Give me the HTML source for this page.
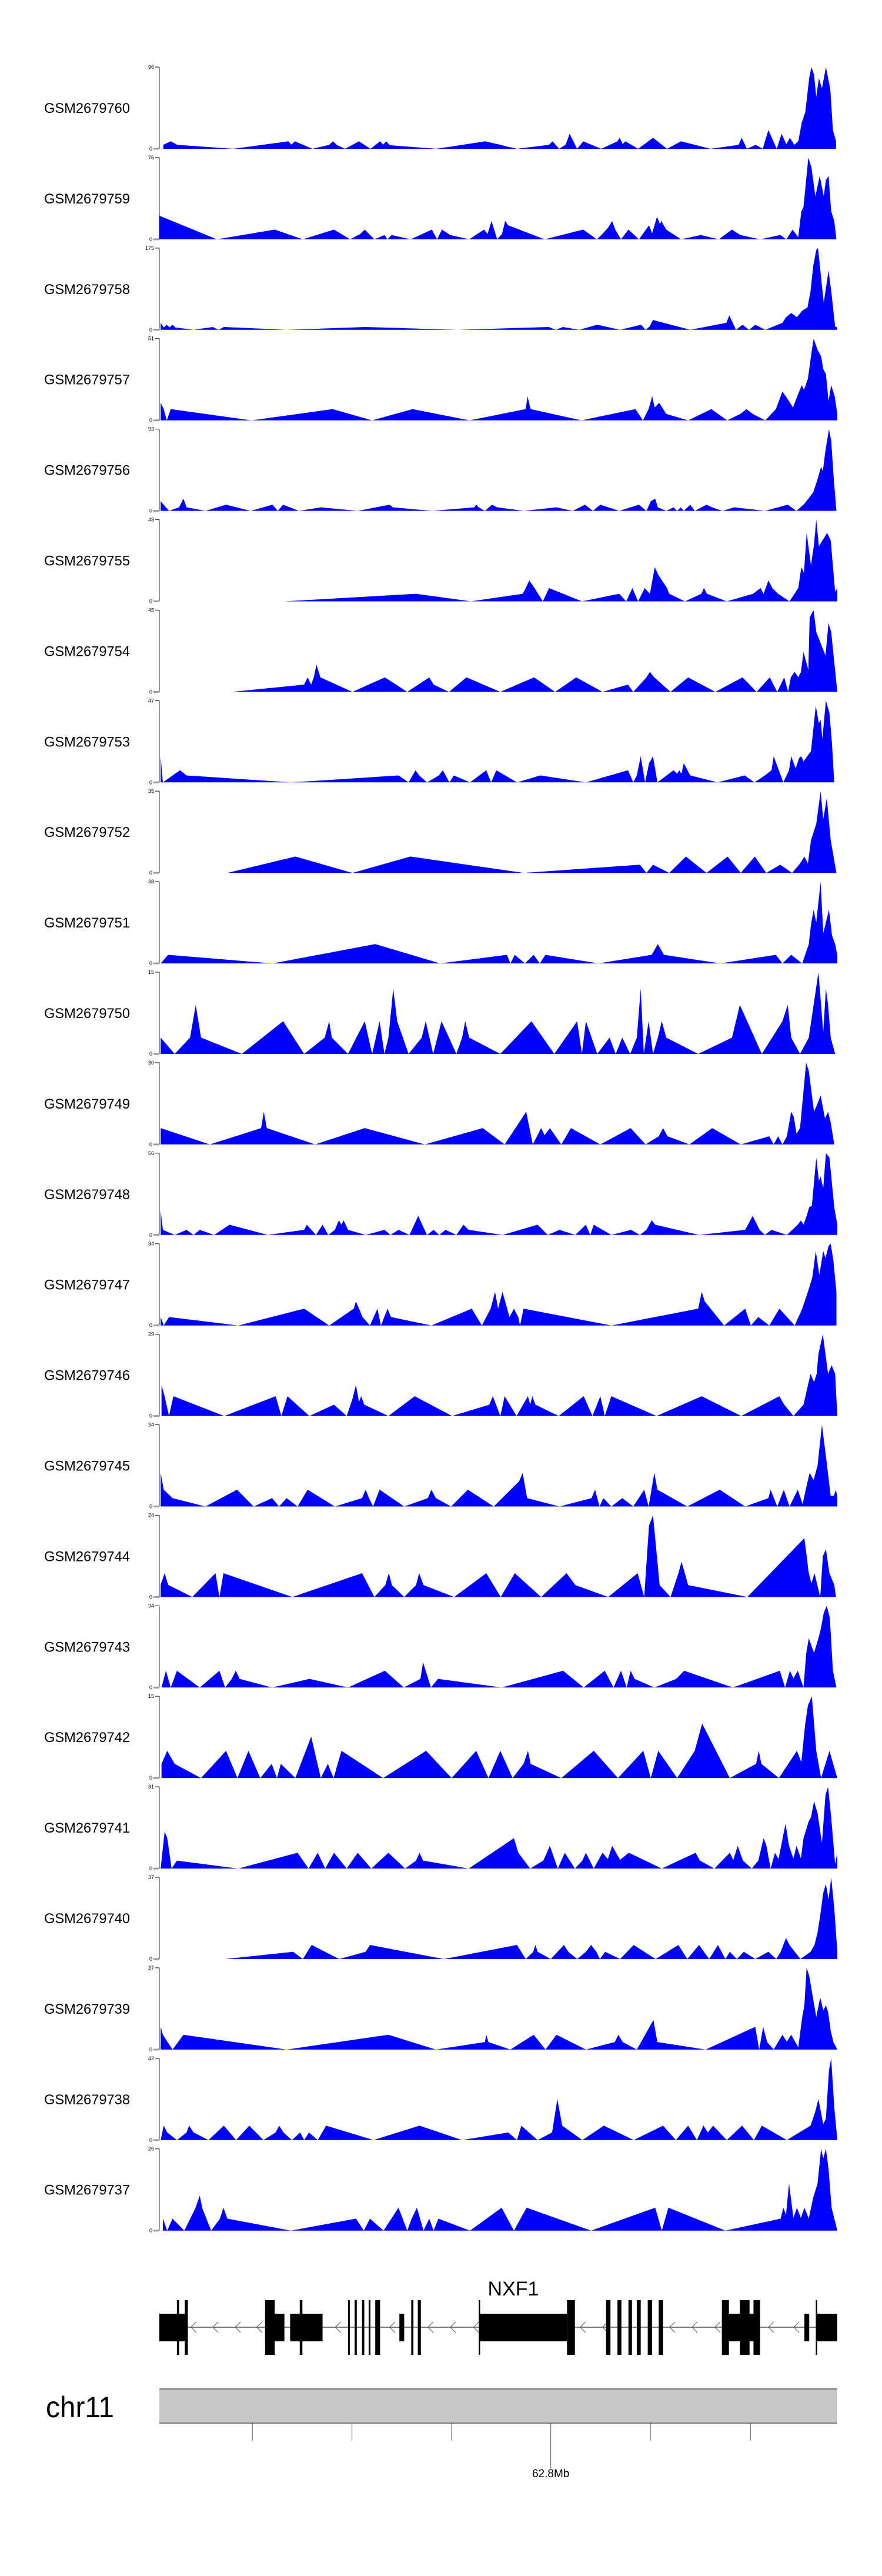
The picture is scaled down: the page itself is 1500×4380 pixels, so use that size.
<!DOCTYPE html>
<html><head><meta charset="utf-8"><title>NXF1 coverage tracks</title>
<style>html,body{margin:0;padding:0;background:#fff}svg{display:block}text{font-family:"Liberation Sans",Arial,sans-serif}</style>
</head><body>
<svg id="chart" xmlns="http://www.w3.org/2000/svg" width="1500" height="4380" viewBox="0 0 1500 4380">
<g id="tracks"></g>
<g id="gene">
  <text x="873" y="3903" text-anchor="middle" font-size="34">NXF1</text>
</g>
<g id="ideo">
  <text x="78" y="4110" font-size="50" textLength="116" lengthAdjust="spacingAndGlyphs">chr11</text>
  <rect x="271" y="4062" width="1153" height="58" fill="#c8c8c8"/>
  <line x1="271" y1="4062" x2="1424" y2="4062" stroke="#777" stroke-width="2"/>
  <line x1="271" y1="4120" x2="1424" y2="4120" stroke="#777" stroke-width="2"/>
</g>
</svg>
<script>
const sampleNames = ["GSM2679760","GSM2679759","GSM2679758","GSM2679757","GSM2679756","GSM2679755","GSM2679754","GSM2679753","GSM2679752","GSM2679751","GSM2679750","GSM2679749","GSM2679748","GSM2679747","GSM2679746","GSM2679745","GSM2679744","GSM2679743","GSM2679742","GSM2679741","GSM2679740","GSM2679739","GSM2679738","GSM2679737"];
const trackMax = [96,76,175,51,93,43,45,47,35,38,15,30,56,34,29,34,24,34,15,31,37,37,42,26];
const binDomain = [0,1545];
// coverage per track: [bin position, read coverage]
const cov0 = [[9,4.6],[26,8.8],[41,4.6],[169,0],[294,8.8],[301,4.9],[309,8.8],[349,0],[387,4.6],[396,8.8],[404,4.6],[423,0],[455,8.8],[481,0],[503,8.8],[510,4.9],[517,8.8],[525,4.2],[631,0],[743,8.8],[815,0],[888,4.6],[896,8.8],[911,0],[926,4.9],[935,17.6],[952,0],[966,8.8],[1007,0],[1044,8.8],[1049,13],[1056,5.6],[1062,8.8],[1091,0],[1125,13],[1157,0],[1189,8.8],[1256,0],[1320,4.6],[1327,13],[1339,0],[1359,4.6],[1375,0],[1388,22],[1407,0],[1418,17.6],[1429,5.3],[1437,13],[1447,4.6],[1456,8.8],[1464,31],[1472,43],[1481,83],[1486,96],[1492,87],[1497,61],[1503,83],[1510,71],[1519,96],[1529,70],[1535,22],[1542,9]];
const cov1 = [[0,22],[131,0],[263,9],[327,0],[398,9],[435,0],[458,5],[468,9],[490,0],[513,4],[520,0],[529,4],[573,0],[621,9],[633,0],[644,9],[663,4],[706,0],[740,9],[748,5],[757,17],[770,0],[781,5],[788,17],[795,13],[878,0],[966,9],[997,0],[1010,5],[1023,11],[1032,17],[1039,9],[1052,0],[1069,9],[1093,0],[1116,13],[1123,5.5],[1134,21],[1141,14],[1144,17],[1155,9],[1189,0],[1234,4],[1275,0],[1305,9],[1324,4],[1369,0],[1415,4],[1429,0],[1443,9],[1456,2],[1463,26],[1468,30],[1479,76],[1486,67],[1495,40],[1505,59],[1514,40],[1519,55],[1525,59],[1531,26],[1538,17],[1543,0]];
const cov2 = [[3,15],[10,5],[17,11],[23,5],[30,11],[36,5],[78,0],[122,6],[135,0],[147,6],[290,0],[470,6],[680,0],[888,6],[903,0],[920,6],[957,0],[998,11],[1050,0],[1098,11],[1108,0],[1117,7],[1125,21],[1210,0],[1292,15],[1299,31],[1314,0],[1329,11],[1344,0],[1358,11],[1381,0],[1420,15],[1428,27],[1440,36],[1453,27],[1465,41],[1477,48],[1484,83],[1490,137],[1497,171],[1501,175],[1514,58],[1525,127],[1532,76],[1540,7],[1545,5]];
const cov3 = [[3,11],[10,7],[17,0],[26,7],[210,0],[395,7],[485,0],[577,7],[707,0],[835,7],[839,15],[846,7],[962,0],[1085,7],[1102,0],[1115,7],[1123,15],[1129,8],[1139,11],[1155,4],[1205,0],[1258,7],[1294,0],[1324,4],[1338,7],[1352,4],[1381,0],[1405,7],[1420,18],[1430,14],[1444,8],[1458,18],[1464,22],[1469,19],[1478,26],[1485,40],[1491,51],[1500,44],[1508,40],[1513,32],[1519,29],[1525,12],[1531,22],[1539,15],[1545,4]];
const cov4 = [[3,11],[22,0],[45,4],[55,14],[62,4],[105,0],[152,7],[208,0],[258,7],[270,0],[282,7],[318,0],[368,4],[452,0],[525,7],[532,4],[622,0],[718,4],[722,7],[728,4],[742,0],[758,7],[770,4],[830,0],[905,4],[942,0],[970,7],[988,0],[1005,7],[1048,0],[1093,7],[1110,0],[1120,11],[1130,14],[1136,4],[1155,0],[1172,4],[1180,0],[1188,4],[1195,0],[1210,7],[1220,0],[1247,7],[1260,4],[1283,0],[1310,4],[1380,0],[1432,7],[1452,0],[1470,8],[1490,21],[1500,36],[1508,50],[1512,45],[1518,69],[1526,93],[1531,80],[1537,36],[1543,0]];
const cov5 = [[285,0],[585,4],[710,0],[828,4],[835,7],[843,11],[855,7],[874,0],[888,7],[963,0],[1048,4],[1064,0],[1078,7],[1091,0],[1106,7],[1118,4],[1129,18],[1137,14],[1157,7],[1162,4],[1198,0],[1235,4],[1241,7],[1248,4],[1293,0],[1353,4],[1370,7],[1377,4],[1388,11],[1397,7],[1410,4],[1436,0],[1456,7],[1463,18],[1469,15],[1475,36],[1485,19],[1492,30],[1497,43],[1503,29],[1511,32],[1522,36],[1530,32],[1540,5],[1545,7]];
const cov6 = [[165,0],[330,4],[338,8],[346,4],[352,8],[358,15],[367,8],[440,0],[514,8],[565,0],[615,8],[625,4],[660,0],[700,8],[777,0],[854,8],[902,0],[950,8],[1010,0],[1068,4],[1080,0],[1110,8],[1118,11],[1128,8],[1165,0],[1205,8],[1267,0],[1329,8],[1361,0],[1391,8],[1408,0],[1424,8],[1433,0],[1439,8],[1448,11],[1456,8],[1462,11],[1468,22],[1479,12],[1482,41],[1491,45],[1497,33],[1518,20],[1525,38],[1531,33],[1545,0]];
const cov7 = [[3,15],[8,0],[47,7],[62,4],[300,0],[545,4],[568,0],[584,7],[592,4],[610,0],[637,4],[646,7],[661,0],[671,4],[708,0],[745,7],[756,0],[768,7],[815,0],[868,4],[972,0],[1068,7],[1080,0],[1088,4],[1097,15],[1107,0],[1116,11],[1125,15],[1135,0],[1172,7],[1180,5],[1185,7],[1190,5],[1195,11],[1210,4],[1272,0],[1334,4],[1356,0],[1380,4],[1395,7],[1400,15],[1422,0],[1435,7],[1440,15],[1450,8],[1458,14],[1463,15],[1468,12],[1485,18],[1496,44],[1503,34],[1507,36],[1511,25],[1519,47],[1527,40],[1533,22],[1538,0]];
const cov8 = [[155,0],[310,7],[440,0],[572,7],[830,0],[1095,3.5],[1110,0],[1125,3.5],[1162,0],[1200,7],[1247,0],[1295,7],[1325,0],[1357,7],[1383,0],[1415,3.5],[1442,0],[1460,4],[1470,7],[1478,4],[1485,14],[1497,21],[1507,35],[1513,23],[1521,32],[1530,14],[1543,0]];
const cov9 = [[3,0],[20,4],[258,0],[492,9],[640,0],[792,4],[800,0],[810,4],[833,0],[853,4],[867,0],[880,4],[1000,0],[1122,4],[1136,9],[1150,4],[1278,0],[1405,4],[1420,0],[1440,4],[1465,0],[1480,9],[1485,18],[1491,25],[1497,19],[1507,38],[1513,14],[1526,25],[1533,13],[1540,9],[1545,4]];
const cov10 = [[3,3],[35,0],[70,3],[83,9],[95,3],[188,0],[282,6],[298,4],[330,0],[377,3],[387,6],[393,3],[430,0],[468,6],[485,0],[502,6],[513,0],[522,3],[533,12],[542,6],[568,0],[598,3],[607,6],[624,0],[643,6],[677,0],[690,3],[697,6],[706,3],[777,0],[848,6],[900,0],[952,6],[963,0],[972,6],[998,0],[1026,3],[1040,0],[1055,3],[1073,0],[1088,3],[1097,12],[1104,0],[1115,6],[1125,0],[1136,3],[1145,6],[1155,3],[1228,0],[1305,3],[1323,9],[1373,0],[1420,6],[1432,9],[1440,3],[1460,0],[1480,3],[1502,15],[1513,4],[1519,12],[1524,9],[1530,3],[1540,0]];
const cov11 = [[3,6],[115,0],[232,6],[238,12],[245,6],[355,0],[468,6],[605,0],[737,6],[787,0],[836,12],[851,0],[870,6],[878,3.4],[890,6],[916,0],[938,6],[1005,0],[1074,6],[1108,0],[1138,3],[1148,6],[1158,3],[1208,0],[1260,6],[1325,0],[1390,3],[1400,0],[1410,3],[1420,0],[1430,3],[1440,12],[1446,10],[1452,4],[1460,6],[1474,30],[1480,27],[1492,12],[1500,15],[1507,18],[1517,9.5],[1524,12],[1530,8],[1538,0]];
const cov12 = [[3,17],[8,3.5],[35,0],[62,3.5],[78,0],[92,3.5],[125,0],[160,7],[247,0],[330,3.5],[336,7],[357,0],[372,7],[385,0],[400,3.5],[409,10],[415,7],[420,10],[430,3.5],[470,0],[513,3.5],[527,0],[545,3.5],[570,0],[590,13],[610,0],[625,3.5],[638,0],[652,3.5],[677,0],[693,7],[705,3.5],[782,0],[862,7],[885,0],[912,3.5],[948,0],[972,7],[982,0],[990,7],[1030,0],[1075,3.5],[1095,0],[1110,3.5],[1122,10],[1130,7],[1230,0],[1335,3.5],[1352,13],[1368,3.5],[1380,0],[1395,3.5],[1430,0],[1455,7],[1462,10],[1468,7],[1475,13],[1481,19],[1487,20],[1497,53],[1503,37],[1507,40],[1513,32],[1519,56],[1527,53],[1538,19],[1545,7]];
const cov13 = [[3,3.5],[10,0],[22,3.5],[180,0],[330,7],[387,0],[443,7],[448,10],[455,7],[463,3.5],[480,0],[497,7],[505,0],[520,7],[528,3.5],[620,0],[712,7],[735,0],[755,7],[765,14],[772,7],[782,14],[798,3.5],[808,7],[818,3.5],[822,0],[830,7],[1030,0],[1228,7],[1236,14],[1243,10],[1287,0],[1335,7],[1348,0],[1365,3.5],[1390,0],[1413,7],[1448,0],[1465,7],[1478,14],[1488,20],[1496,31],[1504,21],[1513,31],[1518,28],[1525,33],[1530,34],[1536,27],[1543,14]];
const cov14 = [[5,11],[12,7],[22,0],[32,7],[148,0],[265,7],[278,0],[292,7],[342,0],[398,4],[427,0],[440,6],[448,11],[455,5],[460,7],[467,4],[522,0],[582,7],[667,0],[752,4],[760,7],[777,0],[787,7],[814,0],[840,7],[845,4],[850,7],[857,4],[910,0],[967,7],[987,0],[1005,7],[1015,0],[1030,7],[1133,0],[1236,7],[1326,0],[1413,7],[1424,4],[1445,0],[1468,4],[1484,15],[1492,12],[1498,15],[1502,22],[1512,29],[1524,15],[1532,18],[1540,15],[1545,0]];
const cov15 = [[3,14],[10,7],[30,3.5],[105,0],[177,7],[215,0],[257,3.5],[273,0],[290,3.5],[315,0],[338,7],[400,0],[462,3.5],[470,7],[478,3.5],[487,0],[502,7],[558,0],[612,3.5],[620,7],[630,3.5],[665,0],[703,7],[762,0],[820,10.5],[828,14],[838,3.5],[912,0],[985,3.5],[993,7],[1003,0],[1012,3.5],[1030,0],[1055,3.5],[1080,0],[1105,7],[1115,0],[1128,14],[1135,7],[1203,0],[1277,7],[1335,0],[1388,3.5],[1393,7],[1408,0],[1423,7],[1436,0],[1455,7],[1466,1],[1473,7],[1482,14],[1491,11],[1500,17],[1510,34],[1520,19.5],[1530,4.4],[1537,4.4],[1542,7],[1545,3.5]];
const cov16 = [[3,3.6],[12,7],[20,3.6],[75,0],[128,7],[137,0],[146,7],[303,0],[462,7],[490,0],[515,3.5],[523,7],[530,3.5],[558,0],[585,3.5],[592,7],[602,3.5],[672,0],[745,7],[778,0],[810,7],[870,0],[928,7],[948,3.5],[1023,0],[1090,7],[1105,0],[1116,21],[1125,24],[1140,3.5],[1165,0],[1183,7],[1190,10.4],[1205,3.5],[1340,0],[1470,17.3],[1480,7],[1486,4],[1493,7],[1506,0],[1512,12],[1519,14],[1527,7],[1538,3.6],[1542,0]];
const cov17 = [[5,0],[15,7],[26,0],[40,7],[92,0],[137,7],[150,0],[165,3.6],[174,7],[183,3.6],[257,0],[342,3.6],[430,0],[514,7],[557,0],[595,3.6],[601,10.5],[619,0],[635,3.6],[780,0],[920,7],[967,0],[1015,7],[1035,0],[1052,7],[1065,0],[1074,7],[1083,3.6],[1128,0],[1178,3.6],[1196,7],[1307,0],[1414,7],[1426,0],[1437,7],[1445,3.8],[1455,7],[1468,0],[1474,14],[1480,20.5],[1492,14.4],[1502,20.5],[1507,24],[1514,31],[1521,34],[1528,29],[1535,7],[1543,0]];
const cov18 = [[5,2.6],[18,5],[35,2.6],[95,0],[152,5],[178,0],[203,5],[230,0],[256,2.6],[268,0],[277,2.6],[310,0],[346,7.6],[368,0],[384,2.6],[397,0],[415,5],[510,0],[608,5],[666,0],[722,5],[750,0],[777,5],[805,0],[830,2.6],[840,5],[846,2.6],[916,0],[990,5],[1045,0],[1103,5],[1120,0],[1137,5],[1180,0],[1220,5],[1237,10],[1300,0],[1360,2.6],[1366,5],[1372,2.6],[1412,0],[1453,5],[1463,2.9],[1472,10],[1478,13.3],[1487,15],[1497,5],[1508,0],[1527,5],[1545,0]];
const cov19 = [[3,0],[12,14],[18,11.6],[28,0],[40,3],[180,0],[315,6],[340,0],[361,6],[378,0],[398,6],[427,0],[452,6],[483,0],[522,6],[560,0],[585,3],[593,6],[601,3],[705,0],[808,11.5],[818,6],[845,0],[875,3],[890,8.6],[908,0],[924,6],[947,0],[964,3],[972,6],[990,0],[1010,6],[1022,3.6],[1032,8.6],[1050,3.3],[1070,6],[1145,0],[1222,6],[1232,3],[1265,0],[1300,6],[1308,3.2],[1318,8.6],[1330,3],[1350,0],[1365,3],[1377,11.5],[1383,9],[1393,0],[1403,6],[1411,3.6],[1427,17],[1435,8.6],[1445,3.8],[1452,8.6],[1462,3.8],[1468,11.5],[1480,18],[1485,19.4],[1492,25.5],[1500,21],[1510,9.7],[1518,28],[1524,31],[1531,19.4],[1540,1.6],[1545,6]];
const cov20 = [[150,0],[305,3.3],[327,0],[347,6.4],[410,0],[470,3.3],[480,6.4],[648,0],[815,6.4],[835,0],[852,3.3],[857,6.4],[862,3.3],[892,0],[922,6.4],[932,3.3],[952,0],[972,3.3],[984,6.4],[996,3.3],[1004,0],[1016,3.3],[1050,0],[1081,6.4],[1131,0],[1183,6.4],[1203,0],[1230,6.4],[1253,0],[1273,6.4],[1290,0],[1300,3.3],[1316,0],[1332,3.3],[1358,0],[1388,3.3],[1406,0],[1416,3.3],[1428,9.5],[1436,6.4],[1461,0],[1484,3.3],[1493,6.4],[1500,12],[1507,21],[1513,30],[1519,34],[1525,27],[1531,37],[1538,23],[1545,3.3]];
const cov21 = [[3,10.3],[8,6.7],[30,0],[55,6.7],[290,0],[522,6.7],[630,0],[742,3.4],[745,6.7],[750,3.4],[800,0],[853,6.7],[880,0],[905,6.7],[972,0],[1038,3.4],[1046,6.7],[1056,3.4],[1088,0],[1126,13.4],[1135,3.4],[1245,0],[1358,10.3],[1367,0],[1376,10.3],[1385,3.4],[1400,0],[1420,6.7],[1430,3.6],[1440,6.7],[1456,1],[1465,14.7],[1470,20],[1475,37],[1481,33.4],[1497,14.7],[1506,23.6],[1513,17.8],[1519,20],[1524,17],[1530,8.5],[1536,3.4],[1545,0]];
const cov22 = [[3,0],[10,7.4],[18,3.9],[40,0],[62,3.9],[68,7.4],[78,3.9],[112,0],[147,7.4],[175,0],[205,7.4],[237,0],[265,3.9],[273,7.4],[283,3.9],[302,0],[321,3.9],[330,0],[341,3.9],[361,0],[380,7.4],[488,0],[593,7.4],[690,0],[795,3.9],[815,0],[825,7.4],[862,0],[895,3.9],[907,21],[918,7.4],[964,0],[1013,7.4],[1081,0],[1148,7.4],[1177,0],[1205,7.4],[1225,0],[1240,7.4],[1250,3.9],[1262,7.4],[1293,0],[1328,7.4],[1355,0],[1373,7.4],[1430,0],[1484,7.4],[1494,14],[1502,21],[1513,8.2],[1519,11],[1526,36],[1531,42],[1538,17],[1545,0]];
const cov23 = [[8,3.8],[18,0],[30,3.8],[57,0],[82,7.1],[92,11.1],[98,7.1],[118,0],[138,3.8],[146,7.3],[155,3.8],[300,0],[448,3.8],[466,0],[480,3.8],[511,0],[545,7.3],[565,0],[575,3.8],[587,7.3],[602,0],[615,3.8],[625,0],[636,3.8],[708,0],[780,7.3],[808,0],[837,7.3],[984,0],[1130,7.3],[1145,0],[1160,7.3],[1290,0],[1416,3.8],[1422,7.3],[1428,5],[1435,15],[1445,4],[1453,7.3],[1462,4],[1470,7.3],[1480,3.9],[1490,10.5],[1500,15],[1508,26],[1513,23],[1519,26],[1525,19.6],[1532,7.3],[1545,0]];
const coverage = [cov0,cov1,cov2,cov3,cov4,cov5,cov6,cov7,cov8,cov9,cov10,cov11,cov12,cov13,cov14,cov15,cov16,cov17,cov18,cov19,cov20,cov21,cov22,cov23];
// gene model in the same bin coordinates: [start, end]
const utrExons = [[40,45],[58,65],[241,263],[320,326],[430,434],[445,450],[462,467],[477,481],[492,503],[574,579],[589,596],[728,731],[929,947],[1018,1028],[1044,1053],[1069,1077],[1088,1097],[1113,1123],[1138,1148],[1282,1298],[1323,1345],[1354,1369],[1496,1499]];
const cdsExons = [[0,64],[241,285],[298,372],[547,558],[730,929],[1282,1369],[1470,1481],[1498,1545]];
const strandArrows = [72,122,173,222,401,525,612,663,716,959,1010,1163,1214,1266,1388,1446];
const genomicTicks = [212,439,666,892,1119,1347];
const tickLabels = ["","","","62.8Mb","",""];

const NS = "http://www.w3.org/2000/svg";
const X0 = 271, X1 = 1424;
function xScale(b){ return X0 + (b - binDomain[0]) / (binDomain[1] - binDomain[0]) * (X1 - X0); }
function trackTop(i){ return 114 + i * 153.9; }
const TRACK_H = 139;
function yScale(i, v){ return trackTop(i) + TRACK_H - v / trackMax[i] * TRACK_H; }
function mk(tag, attrs, parent){ const e = document.createElementNS(NS, tag); for (const k in attrs) e.setAttribute(k, attrs[k]); parent.appendChild(e); return e; }

const tracks = document.getElementById('tracks');
coverage.forEach(function(data, i){
  const g = mk('g', {}, tracks);
  
  
  const top = trackTop(i), zero = top + TRACK_H, mid = top + TRACK_H / 2;
  const lab = mk('text', {x: 75, y: mid + 8.5, 'font-size': 24, textLength: 146, lengthAdjust: 'spacingAndGlyphs'}, g);
  lab.textContent = sampleNames[i];
  
  
  const ax = mk('line', {x1: X0, y1: top, x2: X0, y2: zero, stroke: '#777', 'stroke-width': 1.5}, g);
  
  
  const t1 = mk('line', {x1: X0 - 7, y1: top, x2: X0, y2: top, stroke: '#333', 'stroke-width': 1.2}, g);
  
  
  const t0 = mk('line', {x1: X0 - 10, y1: zero, x2: X0, y2: zero, stroke: '#999', 'stroke-width': 3}, g);
  
  
  const lm = mk('text', {x: X0 - 9, y: top + 3, 'font-size': 9, 'text-anchor': 'end'}, g);
  lm.textContent = String(trackMax[i]);
  
  
  const lz = mk('text', {x: X0 - 12, y: zero + 3, 'font-size': 9, 'text-anchor': 'end'}, g);
  lz.textContent = '0';
  
  
  let d = 'M' + xScale(data[0][0]).toFixed(1) + ',' + zero.toFixed(1);
  data.forEach(function(p){ d += 'L' + xScale(p[0]).toFixed(1) + ',' + yScale(i, p[1]).toFixed(1); });
  d += 'L' + xScale(data[data.length - 1][0]).toFixed(1) + ',' + zero.toFixed(1) + 'Z';
  const area = mk('path', {d: d, fill: '#0000ff', stroke: 'none'}, g);
  
  
});

const gene = document.getElementById('gene');
const GY = 3957, FULL_T = 3911, FULL_B = 4004, THK_T = 3934, THK_B = 3981;
const intron = mk('line', {x1: X0, y1: GY, x2: X1, y2: GY, stroke: '#555', 'stroke-width': 1.5}, gene);


strandArrows.forEach(function(b){
  const x = xScale(b);
  const a = mk('polyline', {points: (x + 9) + ',' + (GY - 9) + ' ' + x + ',' + GY + ' ' + (x + 9) + ',' + (GY + 9), fill: 'none', stroke: '#555', 'stroke-width': 1}, gene);
  
  
});
cdsExons.forEach(function(e){
  const r = mk('rect', {x: xScale(e[0]), y: THK_T, width: xScale(e[1]) - xScale(e[0]), height: THK_B - THK_T, fill: '#000'}, gene);
  
  
});
utrExons.forEach(function(e){
  const r = mk('rect', {x: xScale(e[0]), y: FULL_T, width: Math.max(2, xScale(e[1]) - xScale(e[0])), height: FULL_B - FULL_T, fill: '#000'}, gene);
  
  
});

const ideo = document.getElementById('ideo');
genomicTicks.forEach(function(b, k){
  const x = xScale(b);
  const long = tickLabels[k] !== '';
  const t = mk('line', {x1: x, y1: 4120, x2: x, y2: long ? 4197 : 4150, stroke: '#555', 'stroke-width': 1}, ideo);
  
  
  if (long) {
    const tl = mk('text', {x: x, y: 4212, 'font-size': 19, 'text-anchor': 'middle'}, ideo);
    tl.textContent = tickLabels[k];
    
    
  }
});
</script>
</body></html>
